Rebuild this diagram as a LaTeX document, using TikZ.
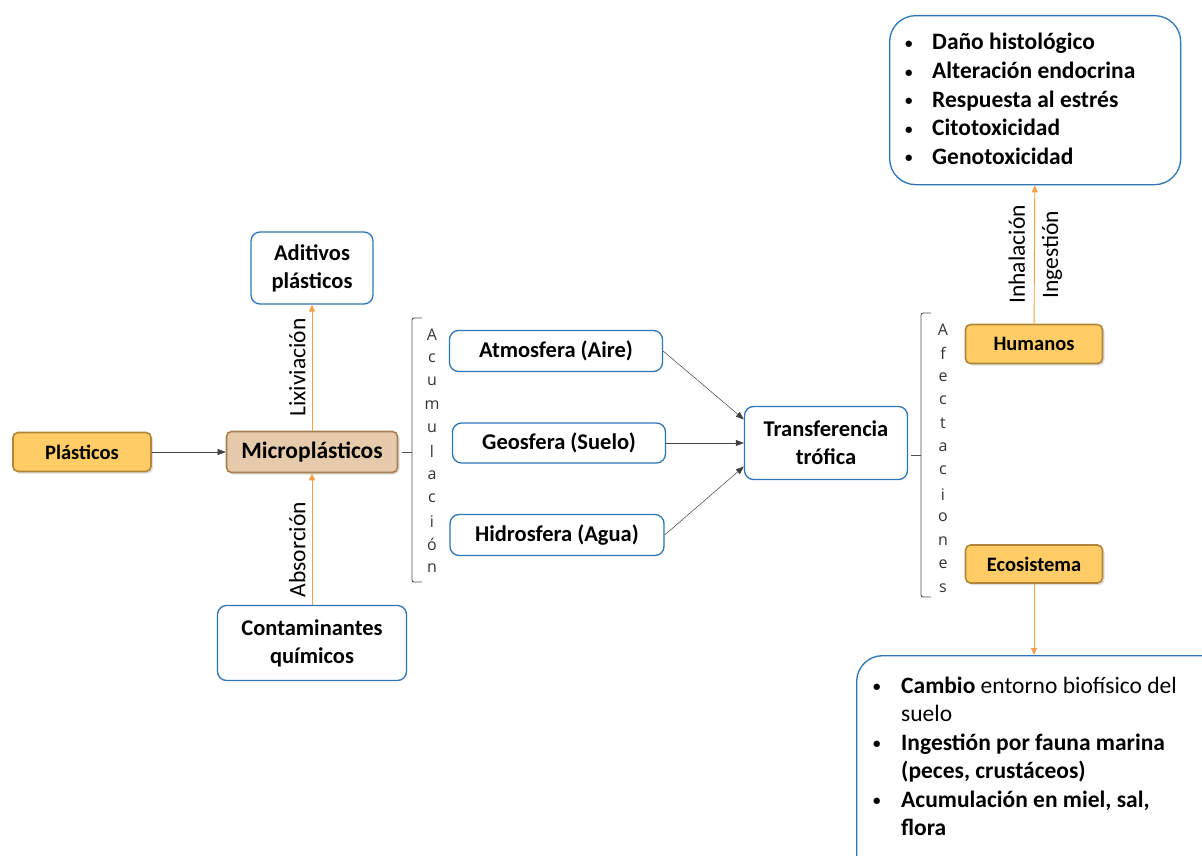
\documentclass[tikz,border=0pt]{standalone}
\usepackage{fontspec}
\setmainfont{Carlito}
\newfontfamily\spacedfont{Open Sans}
\usetikzlibrary{arrows.meta,shadows}
\definecolor{boxblue}{RGB}{46,117,182}
\definecolor{keyyellow}{RGB}{255,204,102}
\definecolor{keybrown}{RGB}{178,134,58}
\definecolor{microfill}{RGB}{229,202,171}
\definecolor{microline}{RGB}{165,128,80}
\definecolor{arroworange}{RGB}{244,160,72}
\definecolor{bracketgray}{RGB}{80,80,80}
\newcommand{\smallbullet}{{\fontsize{15}{15}\selectfont\raisebox{1.5pt}{\textbullet}}}
\tikzset{
  bluebox/.style={draw=boxblue, line width=1.3pt, rounded corners=9pt, fill=white,
    align=center, inner sep=0pt, font=\bfseries\fontsize{22.5}{28}\selectfont},
  keybox/.style={draw=keybrown, line width=1.6pt, rounded corners=5pt, fill=keyyellow,
    inner sep=0pt, font=\bfseries\fontsize{20.5}{24}\selectfont,
    drop shadow={opacity=0.25, shadow xshift=2pt, shadow yshift=-2pt}},
  microbox/.style={keybox, draw=microline, fill=microfill, font=\bfseries\fontsize{23.5}{28}\selectfont},
  listbox/.style={draw=boxblue, line width=1.3pt, rounded corners=26pt, fill=white, inner sep=0pt},
  listline/.style={anchor=base west, inner sep=0pt, font=\bfseries\fontsize{23.5}{28}\selectfont},
  flowlabel/.style={font=\fontsize{23.5}{28}\selectfont, inner sep=6pt},
  vletter/.style={font=\spacedfont\fontsize{16}{18}\selectfont, text=black!80, inner sep=0pt},
  orangearrow/.style={draw=arroworange, line width=0.9pt, -{Triangle[length=7pt,width=6pt]}},
  blackarrow/.style={draw=black!75, line width=0.5pt, -{Triangle[length=8pt,width=6pt]}},
  bracket/.style={draw=bracketgray, line width=0.9pt, rounded corners=2pt},
}
\begin{document}
\begin{tikzpicture}[x=1pt,y=-1pt]
  \clip (0,0) rectangle (1202,856);
  \useasboundingbox (0,0) rectangle (1202,856);

  % left part
  \node[keybox, minimum width=138pt, minimum height=39pt] (plasticos) at (82,452) {Plásticos};
  \node[microbox, minimum width=171pt, minimum height=41pt] (micro) at (312,452) {Microplásticos};
  \node[bluebox, minimum width=122pt, minimum height=72pt] (aditivos) at (312,268) {Aditivos\\plásticos};
  \node[bluebox, minimum width=189pt, minimum height=75pt] (contaminantes) at (312,643) {Contaminantes\\químicos};

  \draw[blackarrow] (plasticos) -- (micro);
  \draw[orangearrow] (micro) -- (aditivos) node[midway, rotate=90, anchor=south, flowlabel] {Lixiviación};
  \draw[orangearrow] (contaminantes) -- (micro) node[pos=0.42, rotate=90, anchor=south, flowlabel] {Absorción};

  % acumulacion
  \coordinate (acumtop) at (422,318);
  \coordinate (acumbot) at (422,582);
  \coordinate (acummid) at (412,452);
  \draw[bracket] (acumtop) -- (412,318) -- (412,582) -- (acumbot);
  \draw[bracket] ([xshift=4pt]micro.east) -- (acummid);
  \foreach \ch [count=\i from 0] in {A,c,u,m,u,l,a,c,i,ó,n}
    \node[vletter] (acum\i) at (432,335+23.3*\i) {\ch};

  \node[bluebox, minimum width=213pt, minimum height=41pt] (atmos) at (556,351) {Atmosfera (Aire)};
  \node[bluebox, minimum width=213pt, minimum height=40pt] (geo) at (559,443) {Geosfera (Suelo)};
  \node[bluebox, minimum width=214pt, minimum height=41pt] (hidro) at (557,535) {Hidrosfera (Agua)};
  \node[bluebox, minimum width=163pt, minimum height=73pt] (transf) at (826,443) {Transferencia\\trófica};

  \draw[blackarrow] (atmos.east) -- (transf.164);
  \draw[blackarrow] (geo.east) -- (transf.west);
  \draw[blackarrow] (hidro.east) -- (transf.196);

  % afectaciones
  \coordinate (afectop) at (931,313);
  \coordinate (afecbot) at (931,597);
  \coordinate (afecmid) at (921,455);
  \draw[bracket] (afectop) -- (921,313) -- (921,597) -- (afecbot);
  \draw[bracket] ([xshift=3pt]transf.east |- afecmid) -- (afecmid);
  \foreach \ch [count=\i from 0] in {A,f,e,c,t,a,c,i,o,n,e,s}
    \node[vletter] (afec\i) at (943,330+23.45*\i) {\ch};

  \node[keybox, minimum width=137pt, minimum height=39pt] (humanos) at (1034,344) {Humanos};
  \node[keybox, minimum width=137pt, minimum height=38pt] (ecosistema) at (1034,564) {Ecosistema};

  % efectos en humanos
  \node[listbox, anchor=north west, minimum width=291pt, minimum height=169pt] (efectoshum) at (889,15) {};
  \foreach \txt [count=\i from 0] in {Daño histológico,Alteración endocrina,Respuesta al estrés,Citotoxicidad,Genotoxicidad}{
    \node[listline] (bulh\i) at (905,50+28.6*\i) {\smallbullet};
    \node[listline] (itemh\i) at (932,50+28.6*\i) {\txt};
  }
  \draw[orangearrow] (humanos) -- (efectoshum)
    node[midway, rotate=90, anchor=south, flowlabel, inner sep=9pt] {Inhalación}
    node[midway, rotate=90, anchor=north, flowlabel, inner sep=7pt] {Ingestión};

  % efectos en ecosistema
  \node[listbox, anchor=north west, minimum width=380pt, minimum height=240pt] (efectoseco) at (856,655) {};
  \draw[orangearrow] (ecosistema) -- (efectoseco.north -| ecosistema);
  \node[listline] (bule0) at (873,693) {\smallbullet};
  \node[listline] (iteme0) at (901,693) {Cambio \mdseries entorno biofísico del};
  \node[listline] (iteme1) at (901,721) {\mdseries suelo};
  \node[listline] (bule1) at (873,750) {\smallbullet};
  \node[listline] (iteme2) at (901,750) {Ingestión por fauna marina};
  \node[listline] (iteme3) at (901,778) {(peces, crustáceos)};
  \node[listline] (bule2) at (873,807) {\smallbullet};
  \node[listline] (iteme4) at (901,807) {Acumulación en miel, sal,};
  \node[listline] (iteme5) at (901,835) {flora};
\end{tikzpicture}
\end{document}
